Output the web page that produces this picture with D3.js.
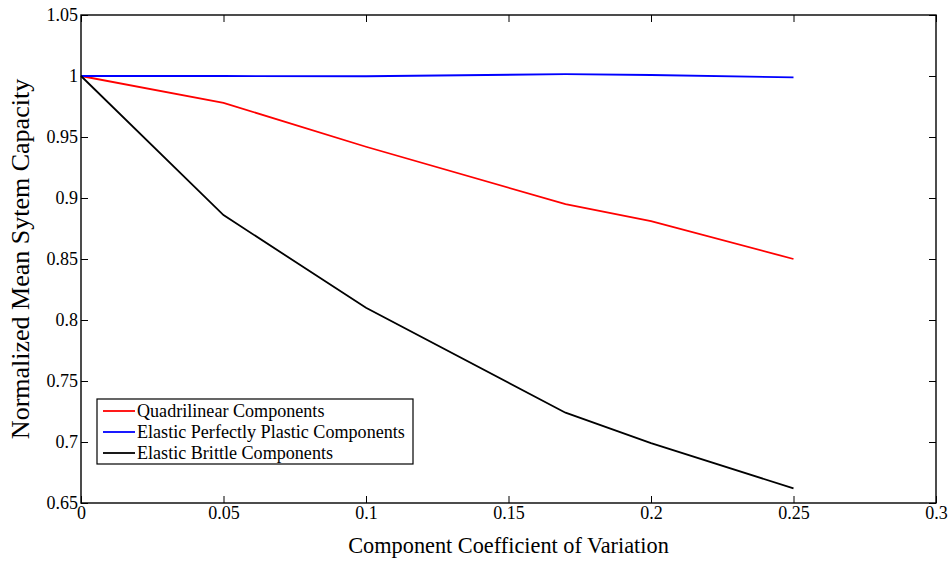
<!DOCTYPE html>
<meta charset="utf-8">
<style>
body { margin: 0; background: #fff; }
.line { fill: none; stroke-width: 1.8px; }
</style>
<svg width="951" height="561"></svg>
<script src="https://d3js.org/d3.v7.min.js"></script>
<script>

var cov = [0, 0.05, 0.1, 0.17, 0.2, 0.25];
var quadrilinear = [1, 0.978, 0.942, 0.895, 0.881, 0.85];
var plastic = [1, 1.0, 0.9998, 1.0015, 1.0008, 0.9988];
var brittle = [1, 0.886, 0.81, 0.724, 0.699, 0.662];

var xTicks = [0, 0.05, 0.1, 0.15, 0.2, 0.25, 0.3];
var yTicks = [0.65, 0.7, 0.75, 0.8, 0.85, 0.9, 0.95, 1, 1.05];

var series = [
  {name: "Quadrilinear Components", color: "#ff0000", values: quadrilinear},
  {name: "Elastic Perfectly Plastic Components", color: "#0000ff", values: plastic},
  {name: "Elastic Brittle Components", color: "#000000", values: brittle}
];

var serif = "'Liberation Serif', 'Times New Roman', serif";

var svg = d3.select("svg").style("font-family", serif),
    plotLeft = 81, plotRight = 936, plotTop = 15, plotBottom = 503;

var x = d3.scaleLinear().domain([0, 0.3]).range([plotLeft, plotRight]);
var y = d3.scaleLinear().domain([0.65, 1.05]).range([plotBottom, plotTop]);

var fmt = function(d) { return String(+d.toFixed(2)); };

function styleAxis(g) {
  g.select(".domain").remove();
  g.attr("font-family", serif).attr("font-size", 18);
  g.selectAll(".tick line").attr("stroke", "#000");
  g.selectAll(".tick text").attr("fill", "#000");
}

// axes, ticks pointing inward
svg.append("g")
    .attr("transform", "translate(0," + plotBottom + ")")
    .call(d3.axisBottom(x).tickValues(xTicks).tickSize(-7).tickPadding(3).tickFormat(fmt))
    .call(styleAxis);

svg.append("g")
    .attr("transform", "translate(0," + plotTop + ")")
    .call(d3.axisTop(x).tickValues(xTicks).tickSize(-7).tickFormat(""))
    .call(styleAxis);

svg.append("g")
    .attr("transform", "translate(" + plotLeft + ",0)")
    .call(d3.axisLeft(y).tickValues(yTicks).tickSize(-7).tickPadding(3).tickFormat(fmt))
    .call(styleAxis);

svg.append("g")
    .attr("transform", "translate(" + plotRight + ",0)")
    .call(d3.axisRight(y).tickValues(yTicks).tickSize(-7).tickFormat(""))
    .call(styleAxis);

// data lines
var line = d3.line()
    .x(function(d, i) { return x(cov[i]); })
    .y(function(d) { return y(d); });

svg.selectAll(".line")
  .data(series)
  .enter().append("path")
    .attr("class", "line")
    .attr("stroke", function(d) { return d.color; })
    .attr("d", function(d) { return line(d.values); });

// frame
svg.append("rect")
    .attr("x", plotLeft).attr("y", plotTop)
    .attr("width", plotRight - plotLeft).attr("height", plotBottom - plotTop)
    .attr("fill", "none").attr("stroke", "#000").attr("stroke-width", 1.4);

// legend
var legend = svg.append("g").attr("transform", "translate(97,399)");
legend.append("rect")
    .attr("width", 316).attr("height", 65)
    .attr("fill", "#fff").attr("stroke", "#000").attr("stroke-width", 1.2);

var item = legend.selectAll(".item")
  .data(series)
  .enter().append("g")
    .attr("transform", function(d, i) { return "translate(0," + (12 + i * 21) + ")"; });

item.append("line")
    .attr("x1", 6).attr("x2", 38)
    .attr("stroke", function(d) { return d.color; })
    .attr("stroke-width", 1.8);

item.append("text")
    .attr("x", 40).attr("dy", "0.33em")
    .attr("font-size", 18.1)
    .text(function(d) { return d.name; });

// axis titles
svg.append("text")
    .attr("x", (plotLeft + plotRight) / 2).attr("y", 553)
    .attr("text-anchor", "middle")
    .attr("font-size", 22.3)
    .text("Component Coefficient of Variation");

svg.append("text")
    .attr("transform", "translate(29," + (plotTop + plotBottom) / 2 + ") rotate(-90)")
    .attr("text-anchor", "middle")
    .attr("font-size", 26)
    .text("Normalized Mean Sytem Capacity");

</script>
